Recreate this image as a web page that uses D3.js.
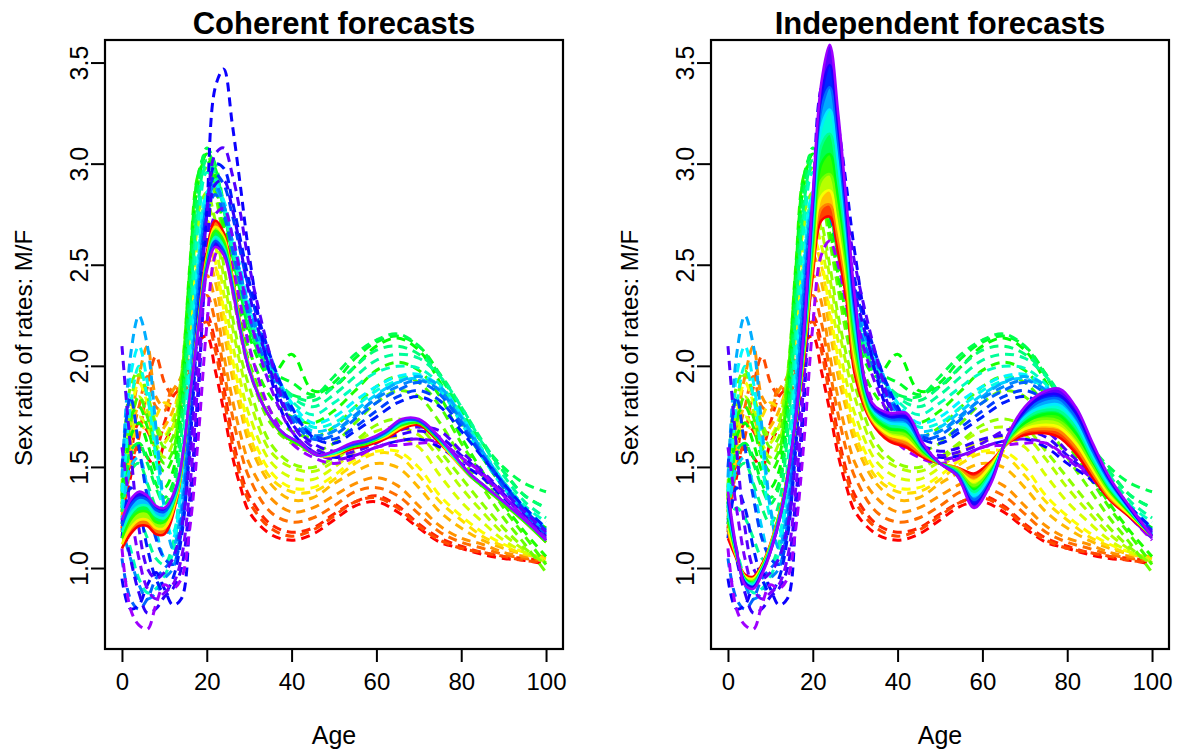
<!DOCTYPE html>
<html><head><meta charset="utf-8">
<script src="https://cdn.jsdelivr.net/npm/d3@7"></script>
<style>body{margin:0;background:#fff}</style>
</head><body>
<svg id="chart" width="1182" height="756"></svg>
<script>
// ---------- data ----------
const panelTitles = ["Coherent forecasts", "Independent forecasts"];
const xTicks = [0, 20, 40, 60, 80, 100];
const yTicks = [1.0, 1.5, 2.0, 2.5, 3.0, 3.5];
const xLabel = "Age";
const yLabel = "Sex ratio of rates: M/F";

// historical sex ratios (dashed), earliest (red) to latest (violet)
const histAges = [0,2,4,6,8,10,12,14,16,18,20,22,24,26,28,30,35,40,45,50,55,60,65,70,75,80,85,90,95,100];
const hist00 = [1.22,1.45,1.60,1.55,1.50,1.62,1.70,1.80,1.95,2.12,2.15,1.98,1.78,1.56,1.40,1.28,1.17,1.14,1.17,1.24,1.31,1.33,1.28,1.20,1.13,1.10,1.07,1.05,1.04,1.02];
const hist01 = [1.18,1.55,1.72,1.68,1.60,1.72,1.85,1.90,2.02,2.20,2.25,2.12,1.90,1.66,1.48,1.36,1.22,1.18,1.20,1.27,1.33,1.36,1.31,1.22,1.15,1.11,1.08,1.06,1.05,1.04];
const hist02 = [1.20,1.50,1.65,1.90,2.05,1.92,1.85,1.82,1.98,2.18,2.22,2.08,1.85,1.62,1.45,1.33,1.20,1.16,1.19,1.26,1.33,1.35,1.30,1.21,1.14,1.10,1.08,1.06,1.04,1.03];
const hist03 = [1.28,1.62,1.80,1.95,1.80,1.78,1.90,1.88,2.05,2.28,2.35,2.22,1.98,1.76,1.58,1.45,1.28,1.23,1.25,1.31,1.38,1.40,1.36,1.27,1.18,1.13,1.10,1.07,1.05,1.04];
const hist04 = [1.25,1.70,1.95,2.10,1.85,1.80,1.88,1.95,2.12,2.38,2.45,2.32,2.06,1.84,1.66,1.52,1.35,1.28,1.30,1.36,1.42,1.45,1.41,1.31,1.21,1.15,1.12,1.08,1.06,1.05];
const hist05 = [1.30,1.60,1.80,1.75,1.65,1.70,1.78,1.92,2.18,2.45,2.55,2.42,2.18,1.95,1.78,1.62,1.42,1.34,1.35,1.42,1.48,1.52,1.50,1.40,1.28,1.20,1.14,1.10,1.07,1.06];
const hist06 = [1.28,1.55,1.72,1.68,1.75,1.82,1.80,1.90,2.15,2.50,2.62,2.50,2.25,2.00,1.82,1.66,1.45,1.38,1.38,1.44,1.52,1.57,1.56,1.46,1.33,1.24,1.16,1.11,1.07,1.05];
const hist07 = [1.34,1.75,1.92,1.82,1.70,1.66,1.74,1.90,2.22,2.52,2.64,2.52,2.28,2.04,1.86,1.70,1.48,1.40,1.40,1.46,1.54,1.58,1.58,1.50,1.36,1.26,1.18,1.12,1.08,1.05];
const hist08 = [1.32,1.65,1.75,1.70,1.60,1.62,1.70,1.88,2.25,2.60,2.72,2.60,2.36,2.12,1.92,1.76,1.53,1.45,1.44,1.50,1.58,1.63,1.65,1.60,1.46,1.33,1.23,1.14,1.08,1.04];
const hist09 = [1.34,1.70,1.85,1.78,1.62,1.55,1.62,1.85,2.30,2.70,2.80,2.68,2.44,2.20,2.00,1.84,1.58,1.50,1.48,1.53,1.62,1.68,1.70,1.66,1.54,1.40,1.28,1.17,1.09,1.03];
const hist10 = [1.36,1.82,1.96,1.86,1.72,1.65,1.72,1.95,2.36,2.76,2.86,2.72,2.50,2.25,2.05,1.90,1.62,1.52,1.50,1.55,1.63,1.71,1.74,1.70,1.58,1.45,1.32,1.20,1.10,1.02];
const hist11 = [1.40,1.90,1.98,1.85,1.70,1.60,1.65,1.95,2.45,2.90,2.98,2.85,2.62,2.38,2.15,1.98,1.72,1.62,1.58,1.62,1.72,1.82,1.88,1.85,1.72,1.55,1.40,1.25,1.12,0.98];
const hist12 = [1.36,1.72,1.85,1.75,1.60,1.52,1.58,1.90,2.48,2.95,3.05,2.90,2.66,2.42,2.20,2.02,1.78,1.68,1.65,1.70,1.80,1.90,1.95,1.92,1.80,1.62,1.46,1.30,1.16,1.02];
const hist13 = [1.38,1.75,1.80,1.70,1.55,1.48,1.55,1.88,2.50,2.95,3.02,2.90,2.68,2.45,2.25,2.08,1.85,1.75,1.72,1.78,1.88,1.98,2.02,1.98,1.85,1.65,1.48,1.32,1.18,1.06];
const hist14 = [1.35,1.65,1.72,1.62,1.48,1.40,1.48,1.80,2.45,2.92,3.05,2.95,2.75,2.52,2.32,2.15,1.95,2.06,1.88,1.90,2.00,2.10,2.14,2.08,1.92,1.72,1.55,1.40,1.28,1.20];
const hist15 = [1.32,1.55,1.62,1.55,1.42,1.35,1.42,1.75,2.42,2.95,3.06,2.98,2.78,2.55,2.36,2.18,1.98,1.92,1.86,1.92,2.04,2.12,2.15,2.10,1.96,1.78,1.62,1.48,1.36,1.30];
const hist16 = [1.30,1.58,1.62,1.52,1.40,1.32,1.40,1.72,2.38,2.88,3.08,3.00,2.80,2.58,2.38,2.20,1.95,1.86,1.85,1.95,2.06,2.13,2.16,2.10,1.95,1.78,1.62,1.50,1.42,1.38];
const hist17 = [1.28,1.48,1.52,1.42,1.30,1.22,1.32,1.65,2.28,2.82,3.02,2.96,2.78,2.58,2.40,2.22,1.98,1.86,1.83,1.90,2.00,2.08,2.10,2.06,1.96,1.80,1.63,1.48,1.36,1.30];
const hist18 = [1.22,1.30,1.25,1.15,1.05,1.02,1.12,1.50,2.20,2.78,3.00,2.95,2.80,2.60,2.42,2.25,2.00,1.85,1.80,1.86,1.95,2.03,2.06,2.04,1.95,1.80,1.62,1.46,1.33,1.25];
const hist19 = [1.26,1.10,0.95,0.88,0.90,0.96,1.08,1.42,2.10,2.70,2.96,2.92,2.78,2.58,2.40,2.25,2.00,1.83,1.76,1.82,1.90,1.97,2.00,1.99,1.91,1.76,1.59,1.43,1.31,1.23];
const hist20 = [1.30,1.80,2.00,1.85,1.55,1.25,1.18,1.45,2.00,2.55,2.85,2.90,2.80,2.62,2.45,2.28,2.02,1.80,1.70,1.72,1.80,1.88,1.93,1.95,1.88,1.72,1.55,1.40,1.28,1.18];
const hist21 = [1.38,1.95,2.10,1.92,1.62,1.30,1.15,1.38,1.95,2.52,2.86,2.90,2.82,2.65,2.48,2.30,2.03,1.82,1.72,1.75,1.83,1.90,1.95,1.96,1.90,1.76,1.58,1.43,1.30,1.20];
const hist22 = [1.22,1.50,1.55,1.40,1.20,1.05,1.02,1.30,1.88,2.50,2.82,2.88,2.78,2.60,2.42,2.26,2.00,1.78,1.68,1.70,1.78,1.86,1.92,1.94,1.88,1.74,1.57,1.42,1.30,1.20];
const hist23 = [1.45,2.05,2.25,2.10,1.70,1.30,1.10,1.30,1.85,2.45,2.80,2.88,2.78,2.62,2.45,2.30,2.05,1.78,1.65,1.68,1.75,1.85,1.92,1.95,1.90,1.75,1.58,1.42,1.28,1.18];
const hist24 = [1.20,1.05,0.92,0.85,0.88,0.95,1.00,1.22,1.78,2.40,2.80,2.90,2.80,2.62,2.45,2.28,2.02,1.76,1.66,1.68,1.76,1.84,1.90,1.93,1.88,1.73,1.57,1.41,1.28,1.17];
const hist25 = [1.05,0.85,0.80,0.85,0.95,1.00,1.05,1.25,1.75,2.35,2.75,2.85,2.75,2.58,2.40,2.24,1.96,1.74,1.64,1.66,1.74,1.82,1.88,1.92,1.86,1.72,1.56,1.40,1.27,1.16];
const hist26 = [1.50,1.85,1.60,1.35,1.15,1.05,1.02,1.18,1.65,2.30,2.78,2.95,2.90,2.75,2.56,2.38,2.04,1.78,1.66,1.64,1.70,1.78,1.85,1.88,1.83,1.70,1.56,1.42,1.29,1.19];
const hist27 = [1.15,1.40,1.30,1.10,0.95,0.88,0.95,1.15,1.60,2.25,2.75,3.00,2.98,2.82,2.62,2.42,2.05,1.80,1.65,1.62,1.68,1.75,1.82,1.85,1.80,1.68,1.55,1.42,1.30,1.20];
const hist28 = [0.95,0.80,0.82,0.92,0.98,0.90,0.82,0.85,1.25,1.85,2.75,3.38,3.47,3.20,2.88,2.55,1.95,1.68,1.58,1.55,1.56,1.60,1.63,1.64,1.60,1.52,1.45,1.35,1.25,1.15];
const hist29 = [1.25,1.05,0.88,0.78,0.80,0.86,0.90,1.00,1.35,1.90,2.55,2.90,2.92,2.78,2.58,2.36,1.98,1.72,1.62,1.58,1.60,1.64,1.66,1.68,1.65,1.56,1.47,1.37,1.26,1.16];
const hist30 = [2.10,1.60,1.20,1.00,0.95,0.98,1.05,1.20,1.55,2.10,2.75,3.05,3.08,2.95,2.75,2.50,2.05,1.72,1.60,1.56,1.58,1.62,1.68,1.70,1.68,1.58,1.48,1.38,1.28,1.18];
const hist31 = [1.60,1.30,1.05,0.90,0.85,0.88,0.92,1.05,1.40,1.95,2.50,2.75,2.78,2.65,2.45,2.25,1.90,1.68,1.58,1.54,1.56,1.60,1.63,1.64,1.62,1.54,1.46,1.36,1.25,1.15];
const hist32 = [1.10,0.80,0.72,0.70,0.82,0.92,0.90,0.95,1.20,1.65,2.20,2.55,2.62,2.50,2.30,2.10,1.78,1.62,1.55,1.52,1.55,1.60,1.61,1.62,1.62,1.55,1.47,1.36,1.25,1.14];
const histSeries = [hist00,hist01,hist02,hist03,hist04,hist05,hist06,hist07,hist08,hist09,hist10,
                    hist11,hist12,hist13,hist14,hist15,hist16,hist17,hist18,hist19,hist20,hist21,
                    hist22,hist23,hist24,hist25,hist26,hist27,hist28,hist29,hist30,hist31,hist32];

// forecasts (solid), first forecast year (red) to last (violet)
const fcAges = [0,2,4,6,8,10,13,16,18,20,22,24,26,28,30,34,38,42,46,50,54,58,62,66,70,74,78,82,86,90,95,100];
const coh0 = [1.10,1.17,1.21,1.21,1.17,1.17,1.35,1.85,2.22,2.56,2.72,2.66,2.45,2.20,2.00,1.78,1.66,1.61,1.56,1.56,1.59,1.61,1.64,1.69,1.71,1.64,1.55,1.46,1.39,1.32,1.23,1.13];
const coh1 = [1.12,1.20,1.24,1.24,1.20,1.20,1.36,1.85,2.21,2.54,2.69,2.64,2.44,2.19,2.00,1.78,1.66,1.61,1.56,1.56,1.60,1.62,1.65,1.70,1.72,1.65,1.55,1.46,1.39,1.32,1.23,1.13];
const coh2 = [1.15,1.24,1.28,1.28,1.23,1.23,1.38,1.85,2.20,2.52,2.67,2.62,2.42,2.18,1.99,1.78,1.66,1.61,1.56,1.57,1.60,1.62,1.66,1.71,1.72,1.65,1.56,1.46,1.39,1.32,1.23,1.13];
const coh3 = [1.18,1.27,1.31,1.31,1.26,1.25,1.39,1.85,2.20,2.50,2.64,2.59,2.41,2.18,1.99,1.78,1.67,1.62,1.56,1.57,1.61,1.63,1.66,1.72,1.73,1.66,1.56,1.47,1.40,1.33,1.24,1.14];
const coh4 = [1.21,1.31,1.35,1.34,1.29,1.28,1.41,1.85,2.19,2.49,2.62,2.57,2.40,2.17,1.98,1.78,1.67,1.62,1.56,1.58,1.61,1.63,1.67,1.73,1.73,1.66,1.57,1.47,1.40,1.33,1.24,1.14];
const coh5 = [1.24,1.34,1.38,1.36,1.31,1.30,1.42,1.85,2.18,2.47,2.59,2.55,2.38,2.16,1.98,1.78,1.67,1.62,1.56,1.58,1.62,1.64,1.68,1.74,1.74,1.67,1.57,1.47,1.40,1.33,1.24,1.14];
const coherentSeries = [coh0,coh1,coh2,coh3,coh4,coh5];

const ind0 = [1.15,1.05,0.97,0.96,1.02,1.12,1.35,1.72,2.05,2.45,2.72,2.74,2.56,2.32,1.95,1.72,1.63,1.60,1.55,1.52,1.50,1.47,1.53,1.62,1.66,1.67,1.65,1.57,1.45,1.34,1.25,1.16];
const ind1 = [1.18,1.06,0.96,0.95,1.01,1.12,1.35,1.72,2.07,2.49,2.78,2.80,2.62,2.37,1.99,1.73,1.65,1.62,1.56,1.52,1.50,1.45,1.52,1.62,1.68,1.69,1.68,1.60,1.47,1.35,1.26,1.16];
const ind2 = [1.20,1.06,0.96,0.95,1.01,1.11,1.34,1.73,2.08,2.53,2.84,2.87,2.68,2.42,2.03,1.74,1.66,1.64,1.57,1.52,1.49,1.43,1.51,1.63,1.69,1.71,1.70,1.62,1.49,1.36,1.26,1.16];
const ind3 = [1.23,1.07,0.95,0.94,1.00,1.11,1.34,1.73,2.10,2.57,2.92,2.95,2.75,2.47,2.07,1.75,1.68,1.66,1.57,1.52,1.49,1.41,1.49,1.63,1.71,1.74,1.73,1.65,1.51,1.38,1.27,1.16];
const ind4 = [1.25,1.07,0.95,0.93,1.00,1.10,1.34,1.73,2.12,2.62,3.00,3.05,2.83,2.52,2.12,1.76,1.69,1.68,1.58,1.52,1.48,1.39,1.48,1.64,1.72,1.76,1.76,1.67,1.53,1.39,1.27,1.16];
const ind5 = [1.28,1.08,0.94,0.93,0.99,1.10,1.33,1.74,2.13,2.67,3.09,3.15,2.91,2.58,2.16,1.78,1.71,1.69,1.59,1.52,1.48,1.38,1.47,1.64,1.74,1.78,1.78,1.70,1.54,1.40,1.28,1.16];
const ind6 = [1.30,1.08,0.94,0.92,0.99,1.09,1.33,1.74,2.15,2.72,3.18,3.27,3.00,2.63,2.20,1.79,1.72,1.71,1.60,1.52,1.47,1.36,1.46,1.65,1.75,1.80,1.81,1.72,1.56,1.41,1.28,1.16];
const ind7 = [1.33,1.09,0.93,0.91,0.98,1.09,1.33,1.74,2.17,2.77,3.27,3.38,3.10,2.69,2.25,1.80,1.74,1.73,1.60,1.52,1.47,1.34,1.44,1.65,1.77,1.83,1.84,1.75,1.58,1.43,1.29,1.16];
const ind8 = [1.35,1.09,0.93,0.91,0.98,1.08,1.32,1.75,2.18,2.81,3.34,3.49,3.18,2.75,2.29,1.81,1.75,1.75,1.61,1.52,1.46,1.32,1.43,1.66,1.78,1.85,1.86,1.77,1.60,1.44,1.29,1.16];
const ind9 = [1.38,1.10,0.92,0.90,0.97,1.08,1.32,1.75,2.20,2.85,3.40,3.59,3.25,2.80,2.33,1.82,1.77,1.77,1.62,1.52,1.46,1.30,1.42,1.66,1.80,1.87,1.89,1.80,1.62,1.45,1.30,1.16];
const independentSeries = [ind0,ind1,ind2,ind3,ind4,ind5,ind6,ind7,ind8,ind9];

// ---------- drawing ----------
const FONT = "'Liberation Sans', Arial, Helvetica, sans-serif";
const svg = d3.select("#chart");
svg.append("rect").attr("width", 1182).attr("height", 756).attr("fill", "#fff");

const plotTop = 40, plotBottom = 649, plotW = 458;
const y = d3.scaleLinear().domain([0.602, 3.614]).range([plotBottom, plotTop]);
const HUE_END = 0.77;
const rainbow = (i, n) => d3.hsl(360 * HUE_END * (n > 1 ? i / (n - 1) : 0), 1, 0.5).formatHex();
const rainbowMid = (i, n) => d3.hsl(360 * HUE_END * ((i + 0.5) / (n - 1)), 1, 0.5).formatHex();

const panels = [
  {x0: 105, title: panelTitles[0], fc: coherentSeries},
  {x0: 711, title: panelTitles[1], fc: independentSeries}
];

panels.forEach((p, pi) => {
  const x = d3.scaleLinear().domain([-4, 104]).range([p.x0, p.x0 + plotW]);
  const g = svg.append("g");
  const clipId = "clip" + pi;
  svg.append("clipPath").attr("id", clipId).append("rect")
    .attr("x", p.x0).attr("y", plotTop).attr("width", plotW).attr("height", plotBottom - plotTop);
  const plot = g.append("g").attr("clip-path", `url(#${clipId})`);

  const curve = d3.curveCatmullRom.alpha(0.5);
  const histLine = d3.line().x((d, i) => x(histAges[i])).y(d => y(d)).curve(curve);
  histSeries.forEach((s, i) => {
    plot.append("path").attr("d", histLine(s))
      .attr("fill", "none").attr("stroke", rainbow(i, histSeries.length))
      .attr("stroke-width", 3).attr("stroke-dasharray", "9 6");
  });

  const n = p.fc.length;
  const band = d3.area().x((d, i) => x(fcAges[i])).y0(d => y(d[0])).y1(d => y(d[1])).curve(curve);
  for (let k = 0; k < n - 1; k++) {
    const pairs = p.fc[k].map((v, i) => [v, p.fc[k + 1][i]]);
    plot.append("path").attr("d", band(pairs)).attr("fill", rainbowMid(k, n)).attr("stroke", "none");
  }
  const fcLine = d3.line().x((d, i) => x(fcAges[i])).y(d => y(d)).curve(curve);
  p.fc.forEach((s, k) => {
    plot.append("path").attr("d", fcLine(s)).attr("fill", "none")
      .attr("stroke", rainbow(k, n)).attr("stroke-width", 2.6);
  });

  // box
  g.append("rect").attr("x", p.x0).attr("y", plotTop).attr("width", plotW).attr("height", plotBottom - plotTop)
    .attr("fill", "none").attr("stroke", "#000").attr("stroke-width", 2.2);

  // x axis
  const xa = g.append("g").attr("transform", `translate(0,${plotBottom})`)
    .call(d3.axisBottom(x).tickValues(xTicks).tickSize(13).tickPadding(11).tickFormat(d3.format("d")));
  xa.select(".domain").remove();
  xa.selectAll(".tick line").attr("stroke", "#000").attr("stroke-width", 2);
  xa.selectAll(".tick text").attr("font-family", FONT).attr("font-size", 24).attr("fill", "#000");

  // y axis (rotated labels, R style)
  const ya = g.append("g");
  yTicks.forEach(v => {
    ya.append("line").attr("x1", p.x0 - 14).attr("x2", p.x0).attr("y1", y(v)).attr("y2", y(v))
      .attr("stroke", "#000").attr("stroke-width", 2);
    ya.append("text").attr("transform", `translate(${p.x0 - 17},${y(v)}) rotate(-90)`)
      .attr("text-anchor", "middle").attr("font-family", FONT).attr("font-size", 25).attr("fill", "#000")
      .text(d3.format(".1f")(v));
  });

  // titles
  g.append("text").attr("x", p.x0 + plotW / 2).attr("y", 34).attr("text-anchor", "middle")
    .attr("font-family", FONT).attr("font-size", 31).attr("font-weight", "bold").text(p.title);
  g.append("text").attr("x", p.x0 + plotW / 2).attr("y", 744).attr("text-anchor", "middle")
    .attr("font-family", FONT).attr("font-size", 25).text(xLabel);
  g.append("text").attr("transform", `translate(${p.x0 - 73},348) rotate(-90)`).attr("text-anchor", "middle")
    .attr("font-family", FONT).attr("font-size", 24).text(yLabel);
});
</script>
</body></html>
